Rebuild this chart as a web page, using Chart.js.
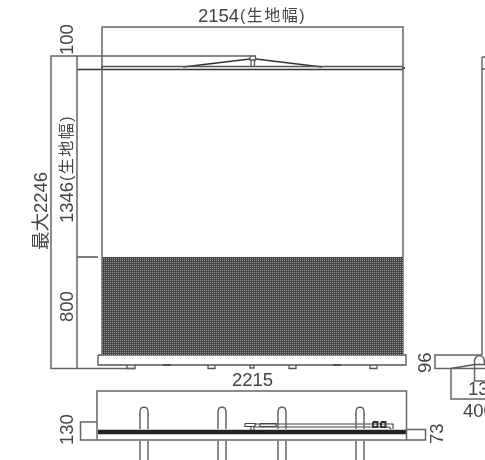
<!DOCTYPE html>
<html>
<head>
<meta charset="utf-8">
<script src="https://cdn.jsdelivr.net/npm/chart.js@4"></script>
<style>
    html, body { margin: 0; padding: 0; background: #fff; }
    canvas { display: block; }
</style>
</head>
<body>
<canvas id="drawing" width="485" height="460"></canvas>
<script>
const dimensionLines = [
    [[102, 355], [102, 27], [403, 27], [403, 355]],
    [[250, 56], [51, 56], [51, 368.5], [135, 368.5]],
    [[77, 56], [77, 368.5]],
    [[97, 440], [97, 391], [406.5, 391], [406.5, 440]],
    [[97, 422], [80.5, 422], [80.5, 440], [425.5, 440], [425.5, 429.5], [406.5, 429.5]],
    [[482, 69], [482, 355]],
    [[482, 355], [435, 355], [435, 368.5], [485, 368.5]],
    [[451, 368.5], [451, 399], [485, 399]],
    [[474.5, 365], [474.5, 381], [485, 381]]
];
const screenOutline = [
    [[102, 66.5], [403, 66.5]],
    [[98, 355], [98, 365], [406, 365], [406, 355], [98, 355]],
    [[127, 365], [127, 368.5], [135, 368.5], [135, 365]],
    [[208, 365], [208, 368.5], [215, 368.5], [215, 365]],
    [[250, 365], [250, 368], [254, 368], [254, 365]],
    [[289, 365], [289, 368.5], [296, 368.5], [296, 365]],
    [[370, 365], [370, 368.5], [377, 368.5], [377, 365]],
    [[250, 56], [250, 60], [255.5, 60], [255.5, 56], [250, 56]],
    [[251, 60], [251, 67]],
    [[254.5, 60], [254.5, 67]],
    [[482, 57], [482, 69], [485, 69]],
    [[482, 57], [485, 57]],
    [[474.5, 365], [474.5, 360], [476, 357], [479, 355.5], [482, 356], [484, 359], [484.5, 365]],
    [[451, 368.5], [474.5, 364.5], [485, 364.5]]
];
const darkLines = [
    [[77, 69.5], [403, 69.5]],
    [[183, 67], [250, 59]],
    [[256, 59], [322, 67]],
    [[77, 257], [98, 257]]
];
const heavySpots = [
    [[163, 365], [171, 365]],
    [[333, 365], [341, 365]],
    [[101, 67.5], [103, 67.5]],
    [[402, 68], [405, 68]],
    [[373, 422], [377.5, 422], [377.5, 427], [373, 427], [373, 422]],
    [[381, 422], [385.5, 422], [385.5, 427], [381, 427], [381, 422]]
];
const roofBar = [[98, 432], [406, 432]];
const fabricBlock = [[102, 257], [403, 257]];
const fabricBottom = 355;
const posts = [
    [[140, 429], [140, 411], [141, 408], [144, 407], [147, 408], [148, 411], [148, 429]],
    [[140, 441], [140, 460]],
    [[148, 441], [148, 460]],
    [[218, 429], [218, 411], [219, 408], [222, 407], [225, 408], [226, 411], [226, 429]],
    [[218, 441], [218, 460]],
    [[226, 441], [226, 460]],
    [[278, 429], [278, 411], [279, 408], [282, 407], [285, 408], [286, 411], [286, 429]],
    [[278, 441], [278, 460]],
    [[286, 441], [286, 460]],
    [[356, 429], [356, 411], [357, 408], [360, 407], [363, 408], [364, 411], [364, 429]],
    [[356, 441], [356, 460]],
    [[364, 441], [364, 460]]
];
const mechanism = [
    [[245, 423.5], [255, 423.5], [255, 426.5], [245, 426.5], [245, 423.5]],
    [[251, 426.5], [251, 430]],
    [[254, 426.5], [254, 430]],
    [[255, 424], [393, 424], [393, 429]],
    [[255, 427], [389, 427], [391, 429]],
    [[260, 423.5], [276, 423.5], [276, 426.5], [260, 426.5], [260, 423.5]]
];
const labelTexts = ['2154', '(生地幅)', '100', '1346', '(生地幅)', '800', '最大2246', '2215', '130', '73', '96', '13', '400'];

// x, y, angle, font size, letter spacing
const labelPlaces = [
    [198, 17, 0, 18.5, 0], [240, 17, 0, 16, 1.5], [67.5, 55, -90, 18.5, 0], [67.5, 223, -90, 18.5, 0], [67.5, 181, -90, 16, 1.5],
    [67.5, 322, -90, 18.5, 0], [42, 250, -90, 18.5, 0], [232, 381, 0, 18.5, 0], [67.5, 445, -90, 18.5, 0], [438, 444, -90, 18.5, 0],
    [426, 373, -90, 18.5, 0], [468, 390, 0, 18.5, 0], [463, 412, 0, 18.5, 0]
];

function fabricPattern() {
    const tile = document.createElement('canvas');
    tile.width = 2;
    tile.height = 2;
    const c = tile.getContext('2d');
    c.fillStyle = '#444';
    c.fillRect(0, 0, 2, 2);
    c.fillStyle = '#999';
    c.fillRect(0, 0, 1, 1);
    return c.createPattern(tile, 'repeat');
}

function toPoints(line) {
    return line.map(p => ({ x: p[0], y: p[1] }));
}

function lineSets(lines, color, width) {
    return lines.map(line => ({
        data: toPoints(line),
        showLine: true,
        borderColor: color,
        borderWidth: width,
        pointRadius: 0,
        fill: false
    }));
}

const labelPlugin = {
    id: 'labels',
    afterDatasetsDraw(chart) {
        const ctx = chart.ctx;
        ctx.save();
        ctx.fillStyle = '#444';
        ctx.textBaseline = 'middle';
        ctx.textAlign = 'left';
        labelTexts.forEach((text, i) => {
            const place = labelPlaces[i];
            ctx.save();
            ctx.font = place[3] + 'px "Liberation Sans", "Noto Sans CJK JP", sans-serif';
            ctx.letterSpacing = place[4] + 'px';
            ctx.translate(chart.scales.x.getPixelForValue(place[0]), chart.scales.y.getPixelForValue(place[1]));
            ctx.rotate(place[2] * Math.PI / 180);
            ctx.fillText(text, 0, 0);
            ctx.restore();
        });
        ctx.restore();
    }
};

const ctx = document.getElementById('drawing').getContext('2d');
new Chart(ctx, {
    type: 'scatter',
    data: {
        datasets: [
            {
                data: toPoints(fabricBlock),
                showLine: true,
                borderWidth: 0,
                pointRadius: 0,
                backgroundColor: fabricPattern(),
                fill: { target: { value: fabricBottom } }
            },
            ...lineSets(dimensionLines, '#666', 1.5),
            ...lineSets(screenOutline, '#555', 1.3),
            ...lineSets(posts, '#666', 1.5),
            ...lineSets(mechanism, '#444', 1.2),
            ...lineSets(darkLines, '#333', 1.3),
            ...lineSets(heavySpots, '#333', 2),
            ...lineSets([roofBar], '#222', 4.5)
        ]
    },
    options: {
        responsive: false,
        animation: false,
        layout: { padding: 0 },
        scales: {
            x: { type: 'linear', display: false, min: 0, max: 485 },
            y: { type: 'linear', display: false, min: 0, max: 460, reverse: true }
        },
        plugins: {
            legend: { display: false },
            tooltip: { enabled: false }
        }
    },
    plugins: [labelPlugin]
});
</script>
</body>
</html>
